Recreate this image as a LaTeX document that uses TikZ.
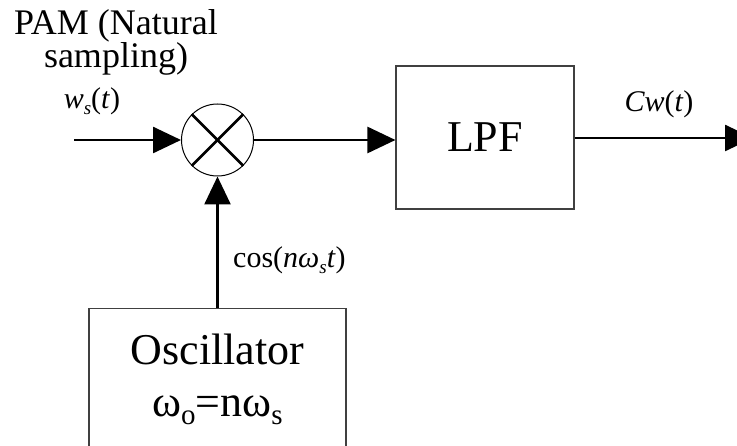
\documentclass[tikz,border=0pt]{standalone}
\usepackage{fontspec}
\setmainfont{Liberation Serif}
\usetikzlibrary{arrows.meta}
\newcommand\tightls{\lineskiplimit=-50pt\relax\lineskip=0pt\relax}
\tikzset{
  box/.style={draw=black!75, line width=1.1pt, rectangle, inner sep=0pt},
  conn/.style={line width=2.6pt, -{Triangle[length=28pt,width=26pt]}},
  lbl/.style={inner sep=0pt, font=\fontsize{30}{34}\selectfont},
  big/.style={inner sep=0pt, font=\fontsize{44}{50}\selectfont},
  pamf/.style={inner sep=0pt, align=center, font=\fontsize{36}{33}\selectfont\tightls},
}
\newcommand\dsub[1]{\raisebox{-6pt}{\fontsize{19}{19}\selectfont #1}}
\newcommand\bsub[1]{\raisebox{-8pt}{\fontsize{29}{29}\selectfont #1}}
\begin{document}
\begin{tikzpicture}[x=1pt,y=-1pt]
\clip (0,0) rectangle (737,446);
% blocks
\node[draw=black, line width=1pt, circle, minimum size=72pt, inner sep=0pt] (mul) at (217.5,140) {};
\draw[line width=2.6pt] (mul.135) -- (mul.-45);
\draw[line width=2.6pt] (mul.45) -- (mul.-135);
\node[box, minimum width=178pt, minimum height=143pt] (lpf) at (485,137.5) {};
\node[big, anchor=base] (lpft) at (485,152) {LPF};
\node[box, minimum width=257pt, minimum height=170pt, anchor=north] (osc) at (217.5,308) {};
\node[big, anchor=base] (osct1) at (217.5,365) {Oscillator};
\node[big, anchor=base] (osct2) at (217.5,417) {ω\bsub{o}=nω\bsub{s}};
% connectors
\coordinate (in) at (74,140);
\coordinate (out) at (753,138);
\draw[conn] (in) -- (mul.west);
\draw[conn] (mul.east) -- (lpf.west |- mul.east);
\draw[conn] (lpf.east |- out) -- (out);
\draw[conn] (osc.north) -- (mul.south);
% labels
\node[pamf, anchor=north] (pam) at (116,9) {PAM (Natural\\sampling)};
\node[lbl, anchor=base] (ws) at (92,109) {\textit{w}\dsub{\textit{s}}(\textit{t})};
\node[lbl, anchor=base] (cw) at (659,112) {\textit{Cw}(\textit{t})};
\node[lbl, anchor=base west] (cos) at (233,268) {cos(\textit{nω}\dsub{\textit{s}}\textit{t})};
\end{tikzpicture}
\end{document}
